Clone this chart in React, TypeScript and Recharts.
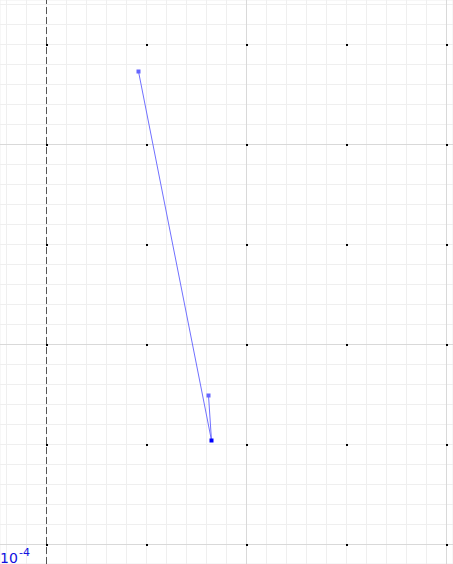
import React from 'react';
import { ComposedChart, Line, Scatter, XAxis, YAxis, CartesianGrid, ReferenceLine } from 'recharts';

// points of the plotted path, in graph units (1 unit = one dotted grid step)
const pathX = [0.92, 1.65, 1.62];
const pathY = [4.73, 1.04, 1.49];
const pointColors = ['#6666ff', '#0000ff', '#6666ff'];

// grid settings
const minorX = Array.from({ length: 23 }, (_, i) => Math.round((-4 + i * 2)) / 10);
const minorY = Array.from({ length: 29 }, (_, i) => Math.round((-2 + i * 2)) / 10);
const majorX = [2, 4];
const majorY = [0, 2, 4];
const dotX = [0, 1, 2, 3, 4];
const dotY = [0, 1, 2, 3, 4, 5];

const pathData = pathX.map((x, i) => ({ x, y: pathY[i] }));
const dotData = dotX.flatMap((x) => dotY.map((y) => ({ x, y })));

const W = 453;
const H = 564;

const PathDot = (props: any) => {
  const { cx, cy, index } = props;
  if (cx == null || cy == null) return null;
  return <rect key={index} x={cx - 2} y={cy - 2} width={4} height={4} fill={pointColors[index]} />;
};

const GridDot = (props: any) => {
  const { cx, cy } = props;
  return <rect x={Math.floor(cx)} y={Math.floor(cy)} width={2} height={2} fill="#000" />;
};

export default function App() {
  return (
    <div style={{ position: 'absolute', left: 0, top: 0, width: W, height: H, background: '#fff' }}>
      <ComposedChart width={W} height={H} margin={{ top: 0, right: 0, bottom: 0, left: 0 }}>
        <XAxis type="number" dataKey="x" domain={[-0.465, 4.065]} ticks={minorX} interval={0} allowDataOverflow hide />
        <YAxis type="number" dataKey="y" domain={[-0.195, 5.445]} ticks={minorY} interval={0} allowDataOverflow hide />
        <CartesianGrid stroke="#efefef" strokeWidth={1} />
        {majorX.map((v) => (
          <ReferenceLine key={'mx' + v} x={v} stroke="#d9d9d9" strokeWidth={1} />
        ))}
        {majorY.map((v) => (
          <ReferenceLine key={'my' + v} y={v} stroke="#d9d9d9" strokeWidth={1} />
        ))}
        <ReferenceLine x={0} stroke="#555" strokeWidth={1} strokeDasharray="7 3" />
        <Scatter data={dotData} shape={<GridDot />} isAnimationActive={false} />
        <Line
          data={pathData}
          dataKey="y"
          type="linear"
          stroke="#7070ff"
          strokeWidth={1}
          dot={<PathDot />}
          activeDot={false}
          isAnimationActive={false}
        />
      </ComposedChart>
      <svg width={W} height={H} style={{ position: 'absolute', left: 0, top: 0, pointerEvents: 'none' }}>
        <text x={0} y={563} fontFamily="DejaVu Sans" fontSize={14} fill="#1010e0">10</text>
        <text x={19} y={556} fontFamily="DejaVu Sans" fontSize={11} fill="#1010e0">-4</text>
      </svg>
    </div>
  );
}
